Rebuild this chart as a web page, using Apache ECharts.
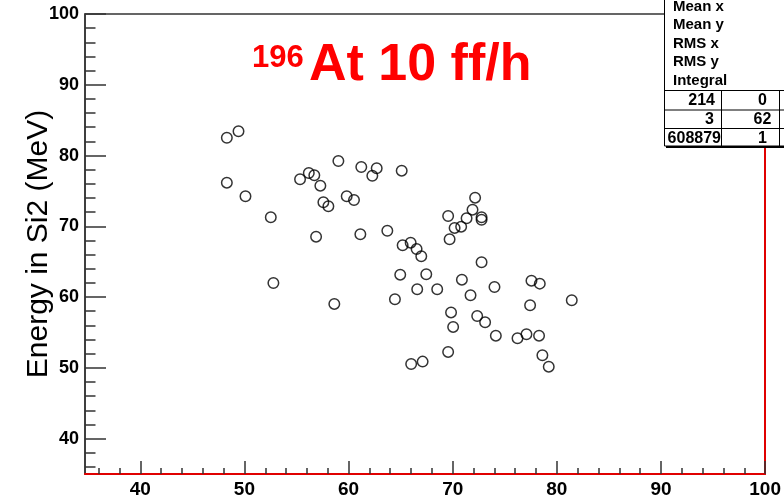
<!DOCTYPE html>
<html>
<head>
<meta charset="utf-8">
<script src="https://cdn.jsdelivr.net/npm/echarts@6/dist/echarts.min.js"></script>
<style>
html,body{margin:0;padding:0;background:#fff;}
#chart{width:784px;height:503px;}
</style>
</head>
<body>
<div id="chart"></div>
<script>
// ---- data ----
const xValues = [48.31,49.43,48.31,50.10,52.53,52.78,55.34,56.18,56.71,57.29,57.58,58.06,56.88,59.02,58.63,59.82,60.52,61.22,62.70,62.28,61.13,65.10,63.72,65.19,65.96,66.53,66.98,64.96,67.46,66.59,68.51,64.45,69.56,69.70,70.18,70.81,71.33,71.90,72.15,72.77,72.77,72.77,70.88,71.71,74.01,69.84,77.56,78.36,77.43,81.43,70.04,72.35,73.11,74.14,76.22,77.08,78.29,69.56,78.61,79.22,66.01,67.11];
const yValues = [82.52,83.43,76.17,74.24,71.28,61.99,76.65,77.54,77.21,75.74,73.40,72.83,68.54,79.23,59.03,74.24,73.72,78.38,78.20,77.15,68.88,77.86,69.38,67.32,67.69,66.80,65.77,63.17,63.22,61.10,61.10,59.69,71.46,68.17,69.77,69.95,71.14,72.35,74.05,71.28,70.92,64.92,62.46,60.26,61.43,57.83,62.32,61.90,58.84,59.55,55.78,57.33,56.44,54.55,54.18,54.75,54.55,52.25,51.78,50.17,50.55,50.88];
const xMajorTicks = [40,50,60,70,80,90,100];
const xMinorTicks = [36,38,42,44,46,48,52,54,56,58,62,64,66,68,72,74,76,78,82,84,86,88,92,94,96,98];
const yMajorTicks = [40,50,60,70,80,90,100];
const yMinorTicks = [36,38,42,44,46,48,52,54,56,58,62,64,66,68,72,74,76,78,82,84,86,88,92,94,96,98];
const yTitle = 'Energy in Si2 (MeV)';
const titleSup = '196';
const titleMain = 'At 10 ff/h';
const statLabels = ['Mean x','Mean y','RMS x','RMS y','Integral'];
const statCol1 = ['214','3','608879'];
const statCol2 = ['0','62','1'];

const points = xValues.map((x,i)=>[x,yValues[i]]);
const FONT = '"Liberation Sans", Arial, sans-serif';
const XMIN = 34.69, XMAX = 100, YMIN = 35, YMAX = 100;
const tickColor = '#333';

const chart = echarts.init(document.getElementById('chart'));

const graphics = [];
// title
graphics.push({type:'text', z:50, style:{text:titleSup, x:252, y:58, fill:'#ff0000', font:'bold 31px '+FONT, textAlign:'left', textVerticalAlign:'middle'}});
graphics.push({type:'text', z:50, style:{text:titleMain, x:309, y:66, fill:'#ff0000', font:'bold 52px '+FONT, textAlign:'left', textVerticalAlign:'middle'}});
// stats box
graphics.push({type:'rect', z:100, shape:{x:666, y:0, width:130, height:148}, style:{fill:'#000'}});
graphics.push({type:'rect', z:101, shape:{x:664.5, y:-5, width:130, height:151}, style:{fill:'#fff', stroke:'#000', lineWidth:1}});
const labY = [6.5, 24.7, 43.5, 61.7, 80.5];
statLabels.forEach((t,i)=>{
  graphics.push({type:'text', z:102, style:{text:t, x:673, y:labY[i], fill:'#000', font:'bold 15px '+FONT, textAlign:'left', textVerticalAlign:'middle'}});
});
[90.5,110,128.5].forEach(yy=>{
  graphics.push({type:'line', z:102, shape:{x1:664.5, y1:yy, x2:790, y2:yy}, style:{stroke:'#000', lineWidth:1}});
});
[721.5,779.5].forEach(xx=>{
  graphics.push({type:'line', z:102, shape:{x1:xx, y1:90.5, x2:xx, y2:146}, style:{stroke:'#000', lineWidth:1}});
});
const rowY = [100.5, 119.5, 138.5];
const col1X = [715, 714, 721];
statCol1.forEach((t,i)=>{
  graphics.push({type:'text', z:102, style:{text:t, x:col1X[i], y:rowY[i], fill:'#000', font:'bold 16px '+FONT, textAlign:'right', textVerticalAlign:'middle'}});
});
statCol2.forEach((t,i)=>{
  graphics.push({type:'text', z:102, style:{text:t, x:762.5, y:rowY[i], fill:'#000', font:'bold 16px '+FONT, textAlign:'center', textVerticalAlign:'middle'}});
});

const baseX = {type:'value', min:XMIN, max:XMAX, position:'bottom', splitLine:{show:false}};
const baseY = {type:'value', min:YMIN, max:YMAX, splitLine:{show:false}};

chart.setOption({
  animation:false,
  backgroundColor:'#ffffff',
  grid:{left:85, right:18, top:14, bottom:29, show:true, borderColor:'#333', borderWidth:1.5, backgroundColor:'transparent'},
  xAxis:[
    Object.assign({}, baseX, {
      axisLine:{show:true, onZero:false, lineStyle:{color:'#e00000', width:2}},
      axisTick:{show:true, inside:true, length:13, customValues:xMajorTicks, lineStyle:{color:tickColor, width:1.5}},
      axisLabel:{show:true, customValues:xMajorTicks, margin:6, color:'#000', fontSize:19, fontWeight:'bold', fontFamily:FONT}
    }),
    Object.assign({}, baseX, {
      axisLine:{show:false},
      axisTick:{show:true, inside:true, length:6, customValues:xMinorTicks, lineStyle:{color:tickColor, width:1.5}},
      axisLabel:{show:false}
    })
  ],
  yAxis:[
    Object.assign({}, baseY, {
      position:'left',
      axisLine:{show:true, onZero:false, lineStyle:{color:'#333', width:1.5}},
      axisTick:{show:true, inside:true, length:21, customValues:yMajorTicks, lineStyle:{color:tickColor, width:1.5}},
      axisLabel:{show:true, customValues:yMajorTicks, margin:6, color:'#000', fontSize:18, fontWeight:'bold', fontFamily:FONT},
      name:yTitle, nameLocation:'middle', nameRotate:90, nameGap:31, nameMoveOverlap:false,
      nameTextStyle:{fontSize:30, color:'#000', fontFamily:FONT, fontWeight:'normal'}
    }),
    Object.assign({}, baseY, {
      position:'left',
      axisLine:{show:false},
      axisTick:{show:true, inside:true, length:10.5, customValues:yMinorTicks, lineStyle:{color:tickColor, width:1.5}},
      axisLabel:{show:false}
    }),
    Object.assign({}, baseY, {
      position:'right',
      axisLine:{show:true, onZero:false, lineStyle:{color:'#e00000', width:2}},
      axisTick:{show:false},
      axisLabel:{show:false}
    })
  ],
  series:[{
    type:'scatter',
    xAxisIndex:0, yAxisIndex:0,
    data:points,
    symbol:'circle',
    symbolSize:10.5,
    itemStyle:{color:'rgba(0,0,0,0)', borderColor:'#000', borderWidth:1.5},
    z:5
  }],
  graphic:graphics
});
</script>
</body>
</html>
